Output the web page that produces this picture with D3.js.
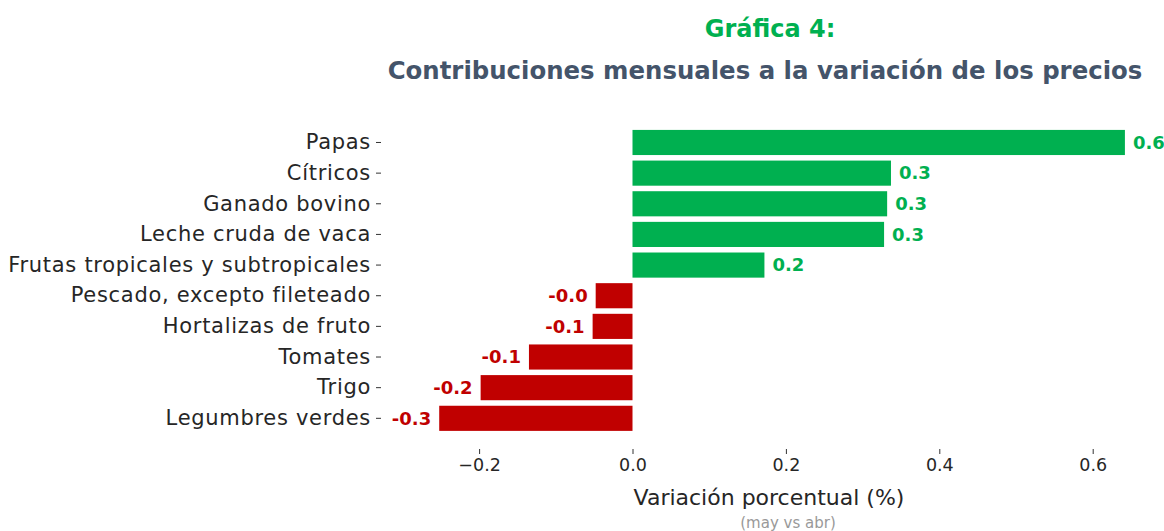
<!DOCTYPE html>
<html>
<head>
<meta charset="utf-8">
<script src="https://cdn.jsdelivr.net/npm/d3@7"></script>
<style>
  body { margin: 0; background: #fff; }
  svg { font-family: "DejaVu Sans", sans-serif; }
</style>
</head>
<body>
<div id="chart"></div>
<script>
// Data
var categories = ["Papas", "Cítricos", "Ganado bovino", "Leche cruda de vaca",
  "Frutas tropicales y subtropicales", "Pescado, excepto fileteado",
  "Hortalizas de fruto", "Tomates", "Trigo", "Legumbres verdes"];
var values = [0.642, 0.337, 0.332, 0.328, 0.172, -0.048, -0.052, -0.135, -0.198, -0.252];
var xTicks = [-0.2, 0.0, 0.2, 0.4, 0.6];

var width = 1164, height = 531;
var green = "#00b050", red = "#c00000";

var svg = d3.select("#chart").append("svg")
    .attr("width", width)
    .attr("height", height);

var data = categories.map(function(c, i) { return { name: c, value: values[i] }; });

// Scales
var xScale = d3.scaleLinear()
    .domain([-0.3, 0.7])
    .range([402.4, 1169.4]);

var yScale = d3.scaleBand()
    .domain(categories)
    .range([124.4, 436.4])
    .padding(0.18);

// value label: keep the sign even when it rounds to zero
function valFmt(d) {
  return (d < 0 ? "-" : "") + Math.abs(d).toFixed(1);
}

// Titles
svg.append("text")
    .attr("x", 770).attr("y", 37)
    .attr("text-anchor", "middle")
    .attr("font-size", 24).attr("font-weight", "bold")
    .attr("fill", green)
    .text("Gráfica 4:");

svg.append("text")
    .attr("x", 765).attr("y", 79)
    .attr("text-anchor", "middle")
    .attr("font-size", 24.4).attr("font-weight", "bold")
    .attr("fill", "#44546a")
    .text("Contribuciones mensuales a la variación de los precios");

// Bars
svg.selectAll("rect.bar").data(data).enter()
  .append("rect")
    .attr("class", "bar")
    .attr("x", function(d) { return xScale(Math.min(0, d.value)); })
    .attr("y", function(d) { return yScale(d.name); })
    .attr("width", function(d) { return Math.abs(xScale(d.value) - xScale(0)); })
    .attr("height", yScale.bandwidth())
    .attr("fill", function(d) { return d.value >= 0 ? green : red; });

// Value labels
svg.selectAll("text.val").data(data).enter()
  .append("text")
    .attr("class", "val")
    .attr("x", function(d) { return d.value >= 0 ? xScale(d.value) + 8 : xScale(d.value) - 8; })
    .attr("y", function(d) { return yScale(d.name) + yScale.bandwidth() / 2; })
    .attr("dy", "0.35em")
    .attr("text-anchor", function(d) { return d.value >= 0 ? "start" : "end"; })
    .attr("font-size", 18).attr("font-weight", "bold")
    .attr("fill", function(d) { return d.value >= 0 ? green : red; })
    .text(function(d) { return valFmt(d.value); });

// Y axis (category labels)
var yAxis = d3.axisLeft(yScale).tickSize(5).tickPadding(5);
var gy = svg.append("g")
    .attr("transform", "translate(381,0)")
    .call(yAxis);
gy.select(".domain").remove();
gy.selectAll("line").attr("stroke", "#333");
gy.selectAll("text")
    .attr("font-size", 21)
    .attr("letter-spacing", 0.7)
    .attr("font-family", "DejaVu Sans, sans-serif")
    .attr("fill", "#262626");

// X axis
var xAxis = d3.axisBottom(xScale).tickValues(xTicks).tickSize(5).tickPadding(5);
var gx = svg.append("g")
    .attr("transform", "translate(0,449)")
    .call(xAxis);
gx.select(".domain").remove();
gx.selectAll("line").attr("stroke", "#333");
gx.selectAll("text")
    .attr("font-size", 17.5)
    .attr("font-family", "DejaVu Sans, sans-serif")
    .attr("fill", "#262626")
    .text(function(d) { return d < 0 ? "\u2212" + (-d).toFixed(1) : d.toFixed(1); });

// Axis titles
svg.append("text")
    .attr("x", 769).attr("y", 505)
    .attr("text-anchor", "middle")
    .attr("font-size", 22)
    .attr("fill", "#262626")
    .text("Variación porcentual (%)");

svg.append("text")
    .attr("x", 788).attr("y", 528)
    .attr("text-anchor", "middle")
    .attr("font-size", 15)
    .attr("fill", "#999")
    .text("(may vs abr)");
</script>
</body>
</html>
